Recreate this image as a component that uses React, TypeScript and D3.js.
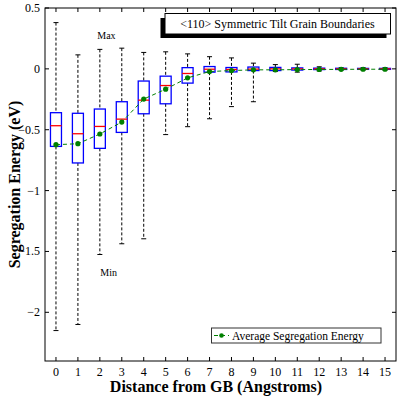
import React from 'react';
import * as d3 from 'd3';

const distances = [0, 1, 2, 3, 4, 5, 6, 7, 8, 9, 10, 11, 12, 13, 14, 15];
const maxVals = [0.38, 0.115, 0.16, 0.17, 0.135, 0.14, 0.123, 0.1, 0.09, 0.047, 0.035, 0.038, 0.017, 0.01, 0.01, 0.01];
const q3Vals = [-0.36, -0.365, -0.33, -0.27, -0.1, -0.06, 0.01, 0.019, 0.011, 0.015, 0.012, 0.008, 0.006, 0.005, 0.004, 0.004];
const medianVals = [-0.467, -0.533, -0.473, -0.413, -0.257, -0.137, -0.038, -0.003, -0.005, -0.002, 0, 0, 0, 0, 0, 0];
const q1Vals = [-0.637, -0.773, -0.653, -0.522, -0.369, -0.287, -0.117, -0.027, -0.025, -0.014, -0.014, -0.01, -0.006, -0.005, -0.004, -0.004];
const minVals = [-2.15, -2.1, -1.525, -1.437, -1.396, -0.54, -0.475, -0.41, -0.31, -0.27, -0.022, -0.027, -0.017, -0.01, -0.01, -0.01];
const meanVals = [-0.623, -0.615, -0.535, -0.437, -0.248, -0.167, -0.074, -0.022, -0.014, -0.008, -0.008, -0.006, -0.005, -0.004, -0.003, -0.003];
const yTicks = [0.5, 0, -0.5, -1, -1.5, -2];

const serif = '"Liberation Serif", "Times New Roman", serif';

const App = () => {
  const W = 402;
  const H = 398;
  const left = 45;
  const right = 396;
  const top = 8;
  const bottom = 361;
  const x = d3.scaleLinear().domain([-0.5, 15.5]).range([left, right]);
  const y = d3.scaleLinear().domain([-2.4, 0.5]).range([bottom, top]);
  const bw = 11;
  const cap = 5;
  const fmt = (v: number) => (v < 0 ? '\u2212' + String(Math.abs(v)) : String(v));

  const meanLine = d3
    .line<number>()
    .x((_, i) => x(distances[i]))
    .y((d) => y(d));

  return (
    <svg width={W} height={H} style={{ position: 'absolute', left: 0, top: 0, background: '#fff' }}>
      <rect x={0} y={0} width={W} height={H} fill="#fff" />
      {/* whiskers */}
      {distances.map((d, i) => (
        <g key={'w' + d}>
          <line x1={x(d)} x2={x(d)} y1={y(maxVals[i])} y2={y(q3Vals[i])} stroke="#000" strokeDasharray="3,2" strokeWidth={1} />
          <line x1={x(d)} x2={x(d)} y1={y(q1Vals[i])} y2={y(minVals[i])} stroke="#000" strokeDasharray="3,2" strokeWidth={1} />
          <line x1={x(d) - cap / 2} x2={x(d) + cap / 2} y1={y(maxVals[i])} y2={y(maxVals[i])} stroke="#000" strokeWidth={1} />
          <line x1={x(d) - cap / 2} x2={x(d) + cap / 2} y1={y(minVals[i])} y2={y(minVals[i])} stroke="#000" strokeWidth={1} />
        </g>
      ))}
      {/* boxes */}
      {distances.map((d, i) => (
        <g key={'b' + d}>
          <rect
            x={x(d) - bw / 2}
            y={y(q3Vals[i])}
            width={bw}
            height={Math.max(1, y(q1Vals[i]) - y(q3Vals[i]))}
            fill="none"
            stroke="#0000ff"
            strokeWidth={1.3}
          />
          <line x1={x(d) - bw / 2} x2={x(d) + bw / 2} y1={y(medianVals[i])} y2={y(medianVals[i])} stroke="#ff0000" strokeWidth={1.3} />
        </g>
      ))}
      {/* mean */}
      <path d={meanLine(meanVals) || ''} fill="none" stroke="#008000" strokeWidth={1} strokeDasharray="4,3" />
      {meanVals.map((m, i) => (
        <circle key={'m' + i} cx={x(distances[i])} cy={y(m)} r={2.6} fill="#008000" />
      ))}
      {/* frame */}
      <rect x={left} y={top} width={right - left} height={bottom - top} fill="none" stroke="#000" strokeWidth={1} />
      {distances.map((d) => (
        <g key={'xt' + d}>
          <line x1={x(d)} x2={x(d)} y1={bottom} y2={bottom - 4} stroke="#000" />
          <line x1={x(d)} x2={x(d)} y1={top} y2={top + 4} stroke="#000" />
          <text x={x(d)} y={bottom + 15} textAnchor="middle" fontFamily={serif} fontSize={12}>
            {d}
          </text>
        </g>
      ))}
      {yTicks.map((t) => (
        <g key={'yt' + t}>
          <line x1={left} x2={left + 4} y1={y(t)} y2={y(t)} stroke="#000" />
          <line x1={right} x2={right - 4} y1={y(t)} y2={y(t)} stroke="#000" />
          <text x={left - 5} y={y(t) + 4} textAnchor="end" fontFamily={serif} fontSize={12}>
            {fmt(t)}
          </text>
        </g>
      ))}
      {/* annotations */}
      <text x={x(2.3)} y={y(0.28) + 4} textAnchor="middle" fontFamily={serif} fontSize={10}>
        Max
      </text>
      <text x={x(2.4)} y={y(-1.67) + 4} textAnchor="middle" fontFamily={serif} fontSize={10}>
        Min
      </text>
      {/* title box */}
      <rect x={160.5} y={18} width={226} height={20} fill="#000" />
      <rect x={165} y={13.5} width={225.5} height={20.5} fill="#fff" stroke="#000" strokeWidth={1} />
      <text x={277.5} y={28} textAnchor="middle" fontFamily={serif} fontSize={12}>
        {'<110> Symmetric Tilt Grain Boundaries'}
      </text>
      {/* legend */}
      <rect x={211.5} y={328} width={169.5} height={15} fill="#fff" stroke="#333" strokeWidth={1} />
      <line x1={214} x2={229} y1={335.5} y2={335.5} stroke="#008000" strokeDasharray="4,3" />
      <circle cx={221.5} cy={335.5} r={2.3} fill="#008000" />
      <text x={232} y={339.5} fontFamily={serif} fontSize={11.5}>
        Average Segregation Energy
      </text>
      {/* axis titles */}
      <text x={216} y={392} textAnchor="middle" fontFamily={serif} fontSize={16} fontWeight="bold">
        Distance from GB (Angstroms)
      </text>
      <text
        transform={`translate(20,${(top + bottom) / 2}) rotate(-90)`}
        textAnchor="middle"
        fontFamily={serif}
        fontSize={16}
        fontWeight="bold"
      >
        Segregation Energy (eV)
      </text>
    </svg>
  );
};

export default App;
